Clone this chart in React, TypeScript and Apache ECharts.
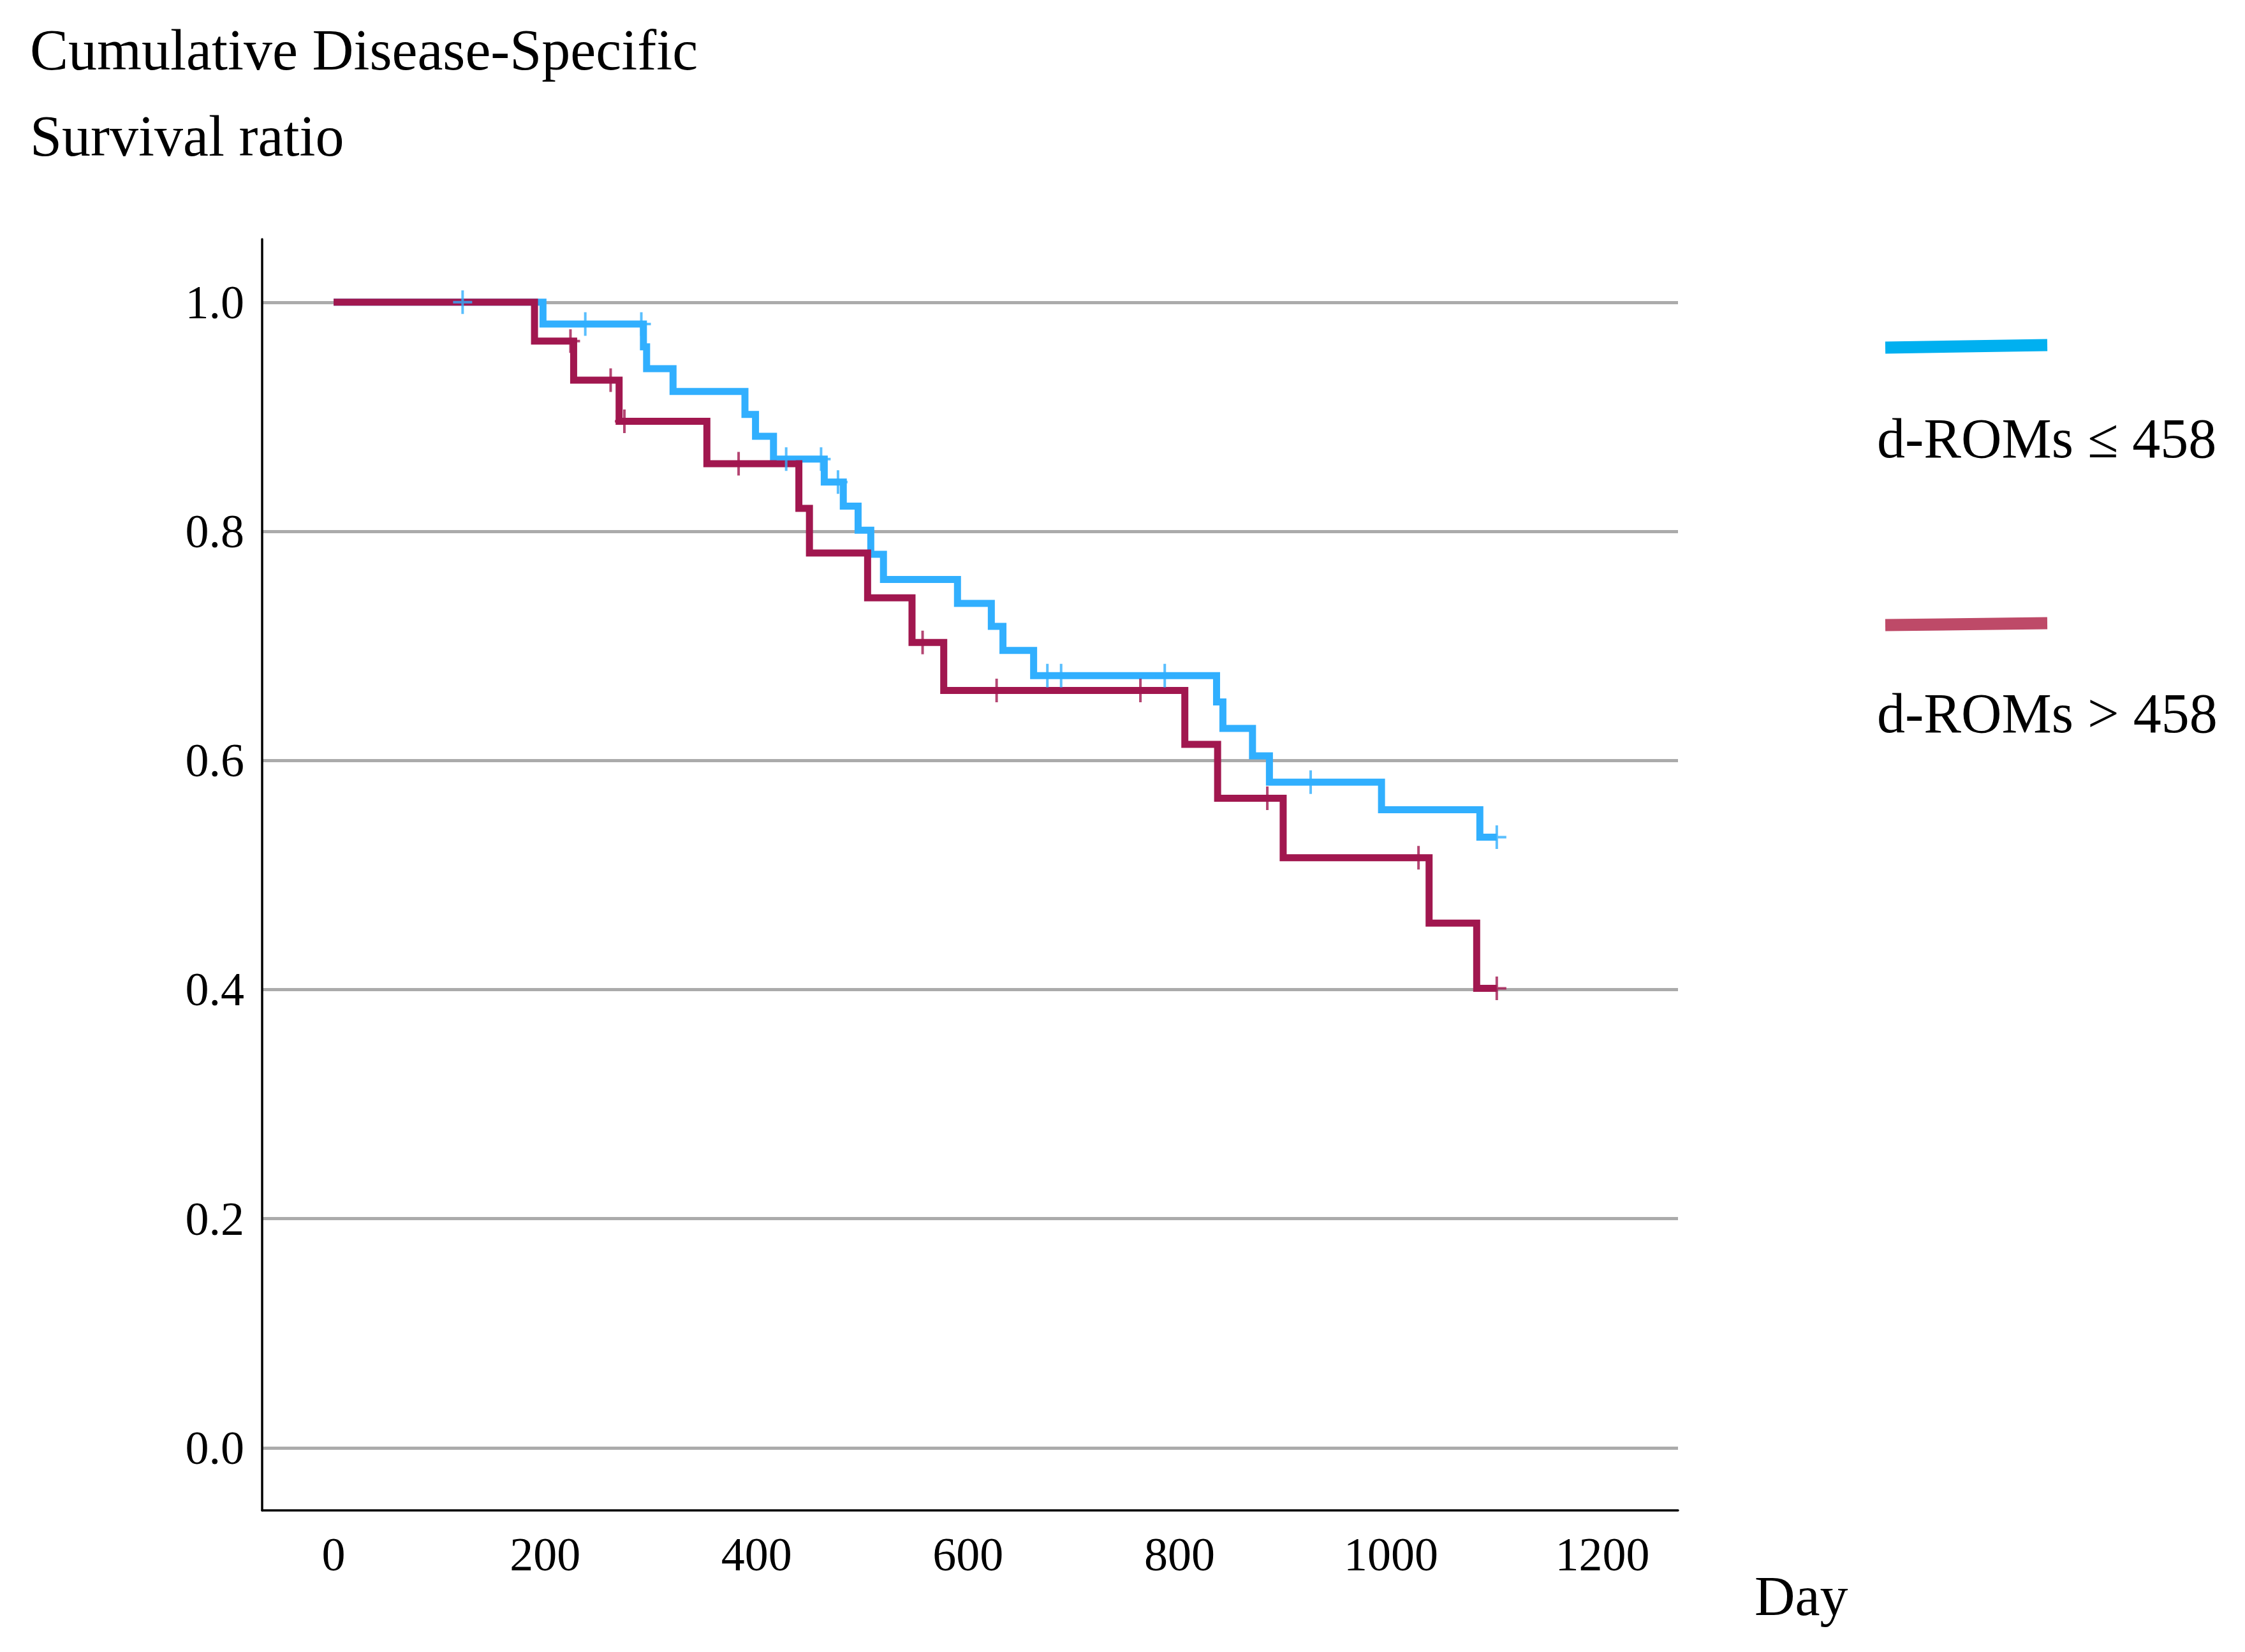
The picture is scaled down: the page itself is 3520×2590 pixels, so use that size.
import * as echarts from 'echarts';
import React, { useEffect, useRef } from 'react';

// Kaplan-Meier steps: day of each drop and survival right after it
const lowTimes = [0, 198, 293, 296, 321, 389, 399, 416, 464, 482, 496, 508, 520, 590, 622, 633, 662, 835, 841, 869, 885, 991, 1084, 1100];
const lowSurvival = [1.0, 0.981, 0.961, 0.942, 0.922, 0.902, 0.883, 0.863, 0.843, 0.822, 0.801, 0.78, 0.758, 0.737, 0.717, 0.696, 0.674, 0.651, 0.628, 0.604, 0.581, 0.557, 0.533, 0.533];
const lowCensored = [122, 238, 291, 428, 461, 477, 675, 688, 786, 924, 1100];

const highTimes = [0, 190, 227, 270, 353, 440, 450, 505, 547, 577, 805, 836, 898, 1036, 1081, 1100];
const highSurvival = [1.0, 0.966, 0.932, 0.896, 0.859, 0.82, 0.781, 0.742, 0.703, 0.661, 0.614, 0.567, 0.515, 0.458, 0.401, 0.401];
const highCensored = [224, 262, 275, 383, 557, 627, 763, 883, 1026, 1100];

const dayTicks = [0, 200, 400, 600, 800, 1000, 1200];
const ratioTicks = [0, 0.2, 0.4, 0.6, 0.8, 1.0];

const groupNames = ['d-ROMs ≤ 458', 'd-ROMs > 458'];

const BLUE = '#31AFFE';
const RED = '#A1174F';
const FONT = '"Liberation Serif", "DejaVu Serif", serif';

// "+" mark for censored cases
const PLUS = 'path://M13,0H17V16.5H30V20.5H17V37H13V20.5H0V16.5H13Z';

const survivalAt = (times: number[], surv: number[], t: number) => {
  let s = surv[0];
  for (let i = 0; i < times.length; i++) {
    if (times[i] <= t) s = surv[i];
  }
  return s;
};

const steps = (times: number[], surv: number[]) => times.map((t, i) => [t, surv[i]]);
const censorPoints = (times: number[], surv: number[], cens: number[]) =>
  cens.map((t) => [t, survivalAt(times, surv, t)]);

const App: React.FC = () => {
  const chartRef = useRef<HTMLDivElement>(null);

  useEffect(() => {
    if (!chartRef.current) return;
    const chart = echarts.init(chartRef.current, undefined, { renderer: 'svg' });

    const option: echarts.EChartsOption = {
      animation: false,
      backgroundColor: '#fff',
      grid: { left: 411, top: 375, width: 2220, height: 1993 },
      xAxis: {
        type: 'value',
        min: -67.6,
        max: 1271.4,
        axisLine: { onZero: false, lineStyle: { color: '#000', width: 3.5 } },
        axisTick: { show: false, customValues: dayTicks },
        splitLine: { show: false },
        axisLabel: {
          customValues: dayTicks,
          formatter: (v: number) => String(v),
          color: '#000',
          fontFamily: FONT,
          fontSize: 74,
          margin: 32,
        },
      },
      yAxis: {
        type: 'value',
        min: -0.0547,
        max: 1.055,
        axisLine: { show: true, onZero: false, lineStyle: { color: '#000', width: 3.5 } },
        axisTick: { show: false, customValues: ratioTicks },
        splitLine: { show: true, lineStyle: { color: '#ABABAB', width: 5 } },
        axisLabel: {
          customValues: ratioTicks,
          formatter: (v: number) => v.toFixed(1),
          color: '#000',
          fontFamily: FONT,
          fontSize: 74,
          margin: 28,
        },
      },
      series: [
        {
          name: groupNames[0],
          type: 'line',
          step: 'end',
          data: steps(lowTimes, lowSurvival),
          showSymbol: false,
          silent: true,
          lineStyle: { color: BLUE, width: 11, join: 'miter', cap: 'butt' },
          z: 2,
        },
        {
          name: groupNames[1],
          type: 'line',
          step: 'end',
          data: steps(highTimes, highSurvival),
          showSymbol: false,
          silent: true,
          lineStyle: { color: RED, width: 11, join: 'miter', cap: 'butt' },
          z: 3,
        },
        {
          type: 'scatter',
          data: censorPoints(lowTimes, lowSurvival, lowCensored),
          symbol: PLUS,
          symbolSize: [30, 37],
          itemStyle: { color: BLUE },
          silent: true,
          z: 4,
        },
        {
          type: 'scatter',
          data: censorPoints(highTimes, highSurvival, highCensored),
          symbol: PLUS,
          symbolSize: [30, 37],
          itemStyle: { color: RED },
          silent: true,
          z: 5,
        },
      ],
      graphic: [
        {
          type: 'text',
          x: 47,
          y: 78,
          style: { text: 'Cumulative Disease-Specific', font: `90px ${FONT}`, fill: '#000', verticalAlign: 'middle' },
        },
        {
          type: 'text',
          x: 47,
          y: 213,
          style: { text: 'Survival ratio', font: `90px ${FONT}`, fill: '#000', verticalAlign: 'middle' },
        },
        {
          type: 'line',
          shape: { x1: 2956, y1: 545, x2: 3210, y2: 541 },
          style: { stroke: '#00B0F0', lineWidth: 19 },
        },
        {
          type: 'text',
          x: 2943,
          y: 687,
          style: { text: groupNames[0], font: `88px ${FONT}`, fill: '#000', verticalAlign: 'middle' },
        },
        {
          type: 'line',
          shape: { x1: 2956, y1: 980, x2: 3210, y2: 977 },
          style: { stroke: '#BE4A68', lineWidth: 19 },
        },
        {
          type: 'text',
          x: 2943,
          y: 1118,
          style: { text: groupNames[1], font: `88px ${FONT}`, fill: '#000', verticalAlign: 'middle' },
        },
        {
          type: 'text',
          x: 2751,
          y: 2502,
          style: { text: 'Day', font: `88px ${FONT}`, fill: '#000', verticalAlign: 'middle' },
        },
      ],
    };

    chart.setOption(option);
    return () => {
      chart.dispose();
    };
  }, []);

  return (
    <div
      ref={chartRef}
      style={{ position: 'fixed', left: 0, top: 0, width: '3520px', height: '2590px' }}
    />
  );
};

export default App;
